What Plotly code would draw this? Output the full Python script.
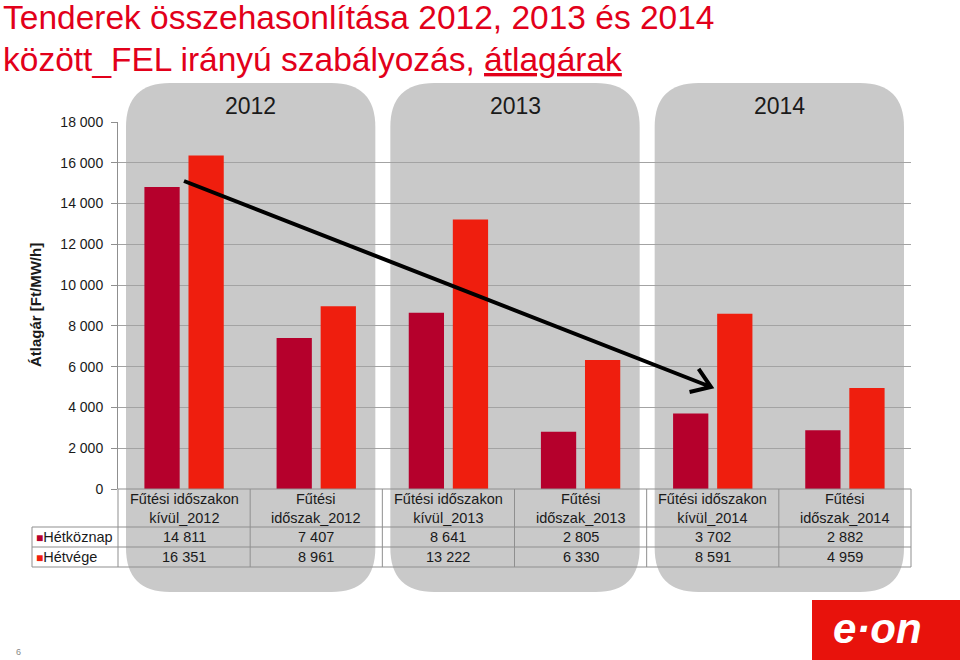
import math
import plotly.graph_objects as go

# ---------------- data ----------------
categories = [
    "Fűtési időszakon<br>kívül_2012", "Fűtési<br>időszak_2012",
    "Fűtési időszakon<br>kívül_2013", "Fűtési<br>időszak_2013",
    "Fűtési időszakon<br>kívül_2014", "Fűtési<br>időszak_2014",
]
series_names = ["Hétköznap", "Hétvége"]
hetkoznap = [14811, 7407, 8641, 2805, 3702, 2882]
hetvege = [16351, 8961, 13222, 6330, 8591, 4959]
years = ["2012", "2013", "2014"]
y_ticks = [0, 2000, 4000, 6000, 8000, 10000, 12000, 14000, 16000, 18000]

colors = ["#b5002c", "#ef1e0e"]

def fmt(v):
    return f"{v:,}".replace(",", " ")

# ---------------- geometry helpers (pixel -> paper) ----------------
PL, PR, PT, PB = 118, 911, 122, 489
def px(x):
    return (x - PL) / (PR - PL)
def py(y):
    return (PB - y) / (PB - PT)

def rounded(x0, y0, x1, y1, r):
    pts = [
        ("M", [(x0 + r, y0)]), ("L", [(x1 - r, y0)]), ("Q", [(x1, y0), (x1, y0 + r)]),
        ("L", [(x1, y1 - r)]), ("Q", [(x1, y1), (x1 - r, y1)]),
        ("L", [(x0 + r, y1)]), ("Q", [(x0, y1), (x0, y1 - r)]),
        ("L", [(x0, y0 + r)]), ("Q", [(x0, y0), (x0 + r, y0)]),
    ]
    s = ""
    for cmd, ps in pts:
        s += cmd + " " + " ".join(f"{px(a):.5f},{py(b):.5f}" for a, b in ps) + " "
    return s + "Z"

fig = go.Figure()
for name, vals, c in zip(series_names, [hetkoznap, hetvege], colors):
    fig.add_trace(go.Bar(x=categories, y=vals, name=name, marker_color=c,
                         marker_line_width=0, showlegend=False))

shapes = []
annotations = []
cat_w = (PR - PL) / len(categories)
FONT = "Liberation Sans, Arial"

# gray rounded blocks
for i, yr in enumerate(years):
    x0 = PL + 2 * i * cat_w + 8
    x1 = PL + (2 * i + 2) * cat_w - 7
    shapes.append(dict(type="path", xref="paper", yref="paper", layer="below",
                       path=rounded(x0, 83, x1, 592, 44),
                       fillcolor="#c9c9c9", line=dict(width=0)))
    annotations.append(dict(xref="paper", yref="paper", x=px((x0 + x1) / 2), y=py(106),
                            text=yr, showarrow=False, xanchor="center", yanchor="middle",
                            font=dict(size=23, color="#1a1a1a", family=FONT)))

# table lines
lc = "#8f8f8f"
def hline(x0, x1, y):
    shapes.append(dict(type="line", xref="paper", yref="paper", x0=px(x0), x1=px(x1),
                       y0=py(y), y1=py(y), line=dict(color=lc, width=1)))
def vline(x, y0, y1):
    shapes.append(dict(type="line", xref="paper", yref="paper", x0=px(x), x1=px(x),
                       y0=py(y0), y1=py(y1), line=dict(color=lc, width=1)))

hline(PL, PR, 489)
hline(32, PR, 527)
hline(32, PR, 547)
hline(32, PR, 567)
vline(32, 527, 567)
for k in range(len(categories) + 1):
    vline(PL + k * cat_w, PB, 567)

tf = dict(size=14.5, color="#1a1a1a", family=FONT)
for k, cat in enumerate(categories):
    cx = PL + (k + 0.5) * cat_w
    annotations.append(dict(xref="paper", yref="paper", x=px(cx), y=py(508), text=cat,
                            showarrow=False, xanchor="center", yanchor="middle", font=tf))
    annotations.append(dict(xref="paper", yref="paper", x=px(cx), y=py(537), text=fmt(hetkoznap[k]),
                            showarrow=False, xanchor="center", yanchor="middle", font=tf))
    annotations.append(dict(xref="paper", yref="paper", x=px(cx), y=py(557), text=fmt(hetvege[k]),
                            showarrow=False, xanchor="center", yanchor="middle", font=tf))
for name, c, yy in zip(series_names, colors, [537, 557]):
    annotations.append(dict(xref="paper", yref="paper", x=px(34), y=py(yy),
                            text=f"<span style='color:{c};font-size:12px'>■</span>{name}",
                            showarrow=False, xanchor="left", yanchor="middle", font=tf))

# y axis title
annotations.append(dict(xref="paper", yref="paper", x=px(35), y=py(305), textangle=-90,
                        text="<b>Átlagár [Ft/MW/h]</b>", showarrow=False,
                        xanchor="center", yanchor="middle",
                        font=dict(size=15, color="#1a1a1a", family=FONT)))

# arrow (decoration)
tx, ty, hx, hy = 184, 181, 711, 387
ang = math.atan2(hy - ty, hx - tx)
al = 22
arms = []
for d in (0.6, -0.6):
    a = ang + math.pi + d
    arms.append((hx + al * math.cos(a), hy + al * math.sin(a)))
path = (f"M {px(tx):.5f},{py(ty):.5f} L {px(hx):.5f},{py(hy):.5f} "
        f"M {px(arms[0][0]):.5f},{py(arms[0][1]):.5f} L {px(hx):.5f},{py(hy):.5f} "
        f"L {px(arms[1][0]):.5f},{py(arms[1][1]):.5f}")
shapes.append(dict(type="path", xref="paper", yref="paper", layer="above", path=path,
                   line=dict(color="black", width=4)))

# title
title_font = dict(size=33.5, color="#e2001a", family=FONT)
annotations.append(dict(xref="paper", yref="paper", x=px(1), y=py(17), xanchor="left", yanchor="middle",
                        showarrow=False, text="Tenderek összehasonlítása 2012, 2013 és 2014",
                        font=title_font))
annotations.append(dict(xref="paper", yref="paper", x=px(1), y=py(60), xanchor="left", yanchor="middle",
                        showarrow=False, text="között_FEL irányú szabályozás, <u>átlagárak</u>",
                        font=title_font))

# logo
shapes.append(dict(type="rect", xref="paper", yref="paper", x0=px(812), x1=px(962),
                   y0=py(600), y1=py(662), fillcolor="#e8120c", line=dict(width=0)))
annotations.append(dict(xref="paper", yref="paper", x=px(877), y=py(628), xanchor="center", yanchor="middle",
                        showarrow=False, text="<b><i>e·on</i></b>",
                        font=dict(size=42, color="white", family=FONT)))
# page number
annotations.append(dict(xref="paper", yref="paper", x=px(18), y=py(652), xanchor="center", yanchor="middle",
                        showarrow=False, text="6", font=dict(size=9, color="#888888", family=FONT)))

fig.update_layout(
    width=960, height=660,
    margin=dict(l=PL, r=960 - PR, t=PT, b=660 - PB, autoexpand=False),
    paper_bgcolor="white", plot_bgcolor="rgba(0,0,0,0)",
    barmode="group", bargap=0.333, bargroupgap=0.2,
    shapes=shapes, annotations=annotations,
    xaxis=dict(showticklabels=False, showgrid=False, zeroline=False, showline=False,
               range=[-0.5, len(categories) - 0.5]),
    yaxis=dict(range=[0, 18000], tickvals=y_ticks, ticktext=[fmt(v) for v in y_ticks],
               showgrid=True, gridcolor="#a3a3a3", gridwidth=1, zeroline=False,
               showline=True, linecolor=lc, ticks="outside", ticklen=6, tickcolor=lc,
               automargin=False, ticklabelstandoff=5,
               tickfont=dict(size=14, color="#1a1a1a", family=FONT)),
)

fig.write_html("out.html", config={"displayModeBar": False},
               post_script="document.body.style.margin='0px';")
